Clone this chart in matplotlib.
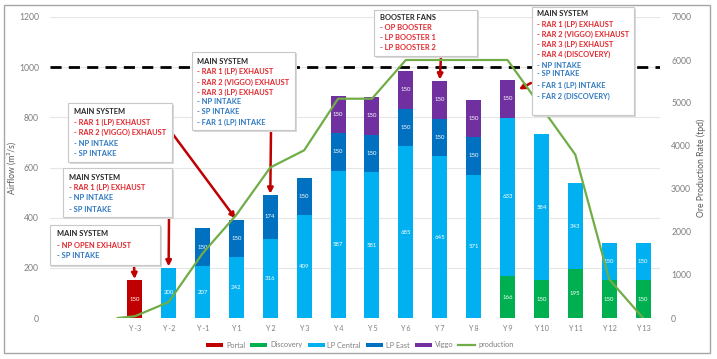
import matplotlib
matplotlib.use("Agg")
import matplotlib.pyplot as plt
from matplotlib.patches import Rectangle
import numpy as np

plt.rcParams['font.family'] = ['Lato', 'DejaVu Sans']

years = ["Y -3", "Y -2", "Y -1", "Y 1", "Y 2", "Y 3", "Y 4", "Y 5", "Y 6", "Y 7",
         "Y 8", "Y 9", "Y 10", "Y 11", "Y 12", "Y 13"]
portal     = [150, 0, 0, 0, 0, 0, 0, 0, 0, 0, 0, 0, 0, 0, 0, 0]
discovery  = [0, 0, 0, 0, 0, 0, 0, 0, 0, 0, 0, 166, 150, 195, 150, 150]
lp_central = [0, 200, 207, 242, 316, 409, 587, 581, 685, 645, 571, 633, 584, 343, 150, 150]
lp_east    = [0, 0, 150, 150, 174, 150, 150, 150, 150, 150, 150, 0, 0, 0, 0, 0]
viggo      = [0, 0, 0, 0, 0, 0, 150, 150, 150, 150, 150, 150, 0, 0, 0, 0]
production = [40, 370, 1500, 2400, 3500, 3900, 5100, 5100, 6000, 6000, 6000, 6000,
              4900, 3800, 900, 0]
production_start = 0
airflow_limit = 1000

W, H = 717, 359
fig = plt.figure(figsize=(W / 100, H / 100), dpi=100)
ax = fig.add_axes([50 / W, 1 - 318 / H, 610 / W, 301 / H])
ax2 = ax.twinx()

def fx(px):
    return px / W

def fy(py):
    return 1 - py / H

# outer frame
fig.patches.append(Rectangle((fx(4), fy(353)), fx(706), 348 / H, transform=fig.transFigure,
                             fill=False, edgecolor="#a6a6a6", lw=1.0))

x = np.arange(len(years))
series = [("Portal", portal, "#C00000"),
          ("Discovery", discovery, "#00B050"),
          ("LP Central", lp_central, "#00B0F0"),
          ("LP East", lp_east, "#0070C0"),
          ("Viggo", viggo, "#7030A0")]
bottom = np.zeros(len(years))
handles = []
for name, vals, col in series:
    vals = np.array(vals, dtype=float)
    bars = ax.bar(x, vals, 0.44, bottom=bottom, color=col, zorder=2, label=name)
    labels = [f"{int(v)}" if v > 0 else "" for v in vals]
    ax.bar_label(bars, labels=labels, label_type="center", color="white", fontsize=4.3, zorder=3)
    bottom += vals
    handles.append(bars)

ax.axhline(airflow_limit, color="black", lw=2.0, dashes=(4, 2.6), zorder=2.5)

ax.set_xlim(-2.5, 15.5)
ax.set_ylim(0, 1200)
ax.set_yticks(range(0, 1201, 200))
ax.set_xticks(x)
ax.set_xticklabels(years)
ax.grid(axis="y", color="#e6e6e6", lw=0.8, zorder=0)
ax.set_axisbelow(True)
for s in ax.spines.values():
    s.set_visible(False)
for s in ax2.spines.values():
    s.set_visible(False)
ax.tick_params(axis="both", length=0, colors="#7f7f7f")
ax.tick_params(axis="y", labelsize=6.2, pad=8)
ax.tick_params(axis="x", labelsize=5.2, pad=5)
ax.set_ylabel("Airflow (m³/s)", fontsize=6.2, color="#595959", labelpad=2)

px = np.concatenate([[x[0] - 0.5], x])
py = np.concatenate([[production_start], production])
line, = ax2.plot(px, py, color="#70AD47", lw=1.6, zorder=4, label="production")
ax2.set_ylim(0, 7000)
ax2.set_yticks(range(0, 7001, 1000))
ax2.tick_params(axis="y", length=0, colors="#7f7f7f", labelsize=6.2, pad=8)
ax2.set_ylabel("Ore Production Rate (tpd)", fontsize=6.2, color="#595959", labelpad=4)
ax.set_zorder(1)
ax2.set_zorder(2)
ax2.patch.set_visible(False)

fig.legend(handles + [line], [s[0] for s in series] + ["production"],
           loc="center", bbox_to_anchor=(fx(360), fy(345)), ncol=6, fontsize=5.3,
           frameon=False, handlelength=2.3, handleheight=0.5, columnspacing=0.7,
           handletextpad=0.4, labelcolor="#7f7f7f")

RED = "#E0282E"
BLUE = "#2E78C0"
boxes = [
    ((50, 225, 160, 265), 57, [("MAIN SYSTEM", "#262626", 233), ("- NP OPEN EXHAUST", RED, 245),
                               ("- SP INTAKE", BLUE, 256)]),
    ((63, 168, 172, 217), 69, [("MAIN SYSTEM", "#262626", 177), ("- RAR 1 (LP) EXHAUST", RED, 187),
                               ("- NP INTAKE", BLUE, 198), ("- SP INTAKE", BLUE, 209)]),
    ((68, 103, 172, 162), 74, [("MAIN SYSTEM", "#262626", 111), ("- RAR 1 (LP) EXHAUST", RED, 122),
                               ("- RAR 2 (VIGGO) EXHAUST", RED, 132), ("- NP INTAKE", BLUE, 143),
                               ("- SP INTAKE", BLUE, 154)]),
    ((192, 52, 295, 130), 197, [("MAIN SYSTEM", "#262626", 61), ("- RAR 1 (LP) EXHAUST", RED, 71),
                                ("- RAR 2 (VIGGO) EXHAUST", RED, 82), ("- RAR 3 (LP) EXHAUST", RED, 92),
                                ("- NP INTAKE", BLUE, 102), ("- SP INTAKE", BLUE, 112),
                                ("- FAR 1 (LP) INTAKE", BLUE, 122)]),
    ((374, 10, 477, 56), 380, [("BOOSTER FANS", "#262626", 17), ("- OP BOOSTER", RED, 27),
                               ("- LP BOOSTER 1", RED, 37), ("- LP BOOSTER 2", RED, 48)]),
    ((532, 7, 634, 115), 537, [("MAIN SYSTEM", "#262626", 13), ("- RAR 1 (LP) EXHAUST", RED, 24),
                               ("- RAR 2 (VIGGO) EXHAUST", RED, 34), ("- RAR 3 (LP) EXHAUST", RED, 44),
                               ("- RAR 4 (DISCOVERY)", RED, 54), ("- NP INTAKE", BLUE, 65),
                               ("- SP INTAKE", BLUE, 74), ("- FAR 1 (LP) INTAKE", BLUE, 85),
                               ("- FAR 2 (DISCOVERY)", BLUE, 96)]),
]
for (l, t, r, b), tx, lines in boxes:
    shadow = Rectangle((fx(l + 1.5), fy(b + 1.5)), (r - l) / W, (b - t) / H, transform=fig.transFigure,
                       facecolor="#d9d9d9", edgecolor="none", zorder=9)
    rect = Rectangle((fx(l), fy(b)), (r - l) / W, (b - t) / H, transform=fig.transFigure,
                     facecolor="white", edgecolor="#c8c8c8", lw=0.8, zorder=10)
    fig.patches.extend([shadow, rect])
    for txt, col, yy in lines:
        fig.text(fx(tx), fy(yy), txt, color=col, fontsize=5.4, fontweight="bold",
                 va="center", ha="left", zorder=11)

# arrows: tail in figure pixels, head at bar tops (data)
tops = bottom
arrows = [((134, 265), (0, tops[0])),
          ((169, 217), (1, tops[1])),
          ((172, 133), (3, tops[3])),
          ((271, 130), (4, tops[4])),
          ((441, 56), (9, tops[9])),
          ((531, 83), (11.3, tops[11] - 40))]
for (tpx, tpy), (hx, hy) in arrows:
    ax.annotate("", xy=(hx, hy), xycoords="data",
                xytext=(fx(tpx), fy(tpy)), textcoords="figure fraction",
                arrowprops=dict(arrowstyle="-|>", color="#C00000", lw=1.8,
                                mutation_scale=8, shrinkA=0, shrinkB=1), zorder=12,
                annotation_clip=False)

fig.savefig("out.png", dpi=100)
